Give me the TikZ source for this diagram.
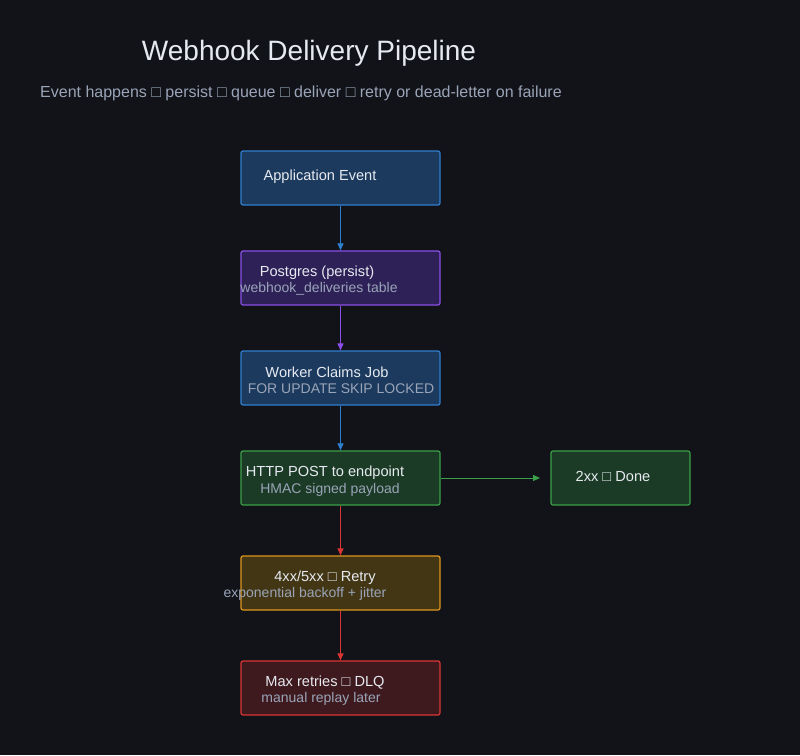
\documentclass[tikz,border=0pt]{standalone}
\usepackage{fontspec}
\setmainfont{Liberation Sans}
\usetikzlibrary{arrows.meta}
\definecolor{bg}{HTML}{111318}
\definecolor{bluef}{HTML}{1C3A5E}\definecolor{blued}{HTML}{2F7FD0}
\definecolor{purf}{HTML}{2E2157}\definecolor{purd}{HTML}{8A4FE8}
\definecolor{grf}{HTML}{1C3B26}\definecolor{grd}{HTML}{3AA04A}
\definecolor{orf}{HTML}{433614}\definecolor{ord}{HTML}{E0961C}
\definecolor{rdf}{HTML}{3E1A1E}\definecolor{rdd}{HTML}{D93535}
\definecolor{subc}{HTML}{9AA4B8}\definecolor{mainc}{HTML}{E6EAF0}
\begin{document}
\begin{tikzpicture}[x=1pt,y=-1pt,
  box/.style={draw,line width=1.2pt,rounded corners=2pt,minimum width=199pt,minimum height=54pt,inner sep=0pt},
  lbl/.style={text=mainc,font=\fontsize{14.6}{16}\selectfont,inner sep=0pt},
  sub/.style={text=subc,font=\fontsize{14}{15}\selectfont,inner sep=0pt},
  arr/.style={line width=1pt,-{Triangle[length=7pt,width=6pt]}}]
\fill[bg] (0,0) rectangle (800,755);
\useasboundingbox (0,0) rectangle (800,755);
\node[text=mainc,font=\fontsize{28}{32}\selectfont] (title) at (309,53) {Webhook Delivery Pipeline};
\node[text=subc,font=\fontsize{16}{18}\selectfont,anchor=west,inner sep=0pt] (subtitle) at (40,93) {Event happens □ persist □ queue □ deliver □ retry or dead-letter on failure};
\node[box,fill=bluef,draw=blued] (b1) at (340.5,178) {};
\node[box,fill=purf,draw=purd] (b2) at (340.5,278) {};
\node[box,fill=bluef,draw=blued] (b3) at (340.5,378) {};
\node[box,fill=grf,draw=grd] (b4) at (340.5,478) {};
\node[box,fill=orf,draw=ord] (b5) at (340.5,583) {};
\node[box,fill=rdf,draw=rdd] (b6) at (340.5,688) {};
\node[box,fill=grf,draw=grd,minimum width=139pt] (b7) at (620.5,478) {};
\node[lbl] (t1) at (320,176.5) {Application Event};
\node[lbl] (t2) at (317,272.5) {Postgres (persist)};
\node[sub] (s2) at (319,288.5) {webhook\_deliveries table};
\node[lbl] (t3) at (327,372.5) {Worker Claims Job};
\node[sub] (s3) at (341,388.5) {FOR UPDATE SKIP LOCKED};
\node[lbl] (t4) at (325,472.5) {HTTP POST to endpoint};
\node[sub] (s4) at (330,489.5) {HMAC signed payload};
\node[lbl] (t7) at (613,476.5) {2xx □ Done};
\node[lbl] (t5) at (325,577.5) {4xx/5xx □ Retry};
\node[sub] (s5) at (305,593.5) {exponential backoff + jitter};
\node[lbl] (t6) at (325,682.5) {Max retries □ DLQ};
\node[sub] (s6) at (321,698.5) {manual replay later};
\draw[arr,blued] (b1.south) -- (b2.north);
\draw[arr,purd] (b2.south) -- (b3.north);
\draw[arr,blued] (b3.south) -- (b4.north);
\draw[arr,rdd] (b4.south) -- (b5.north);
\draw[arr,rdd] (b5.south) -- (b6.north);
\coordinate (g) at (540,478);
\draw[arr,grd] (b4.east) -- (g);
\end{tikzpicture}
\end{document}
